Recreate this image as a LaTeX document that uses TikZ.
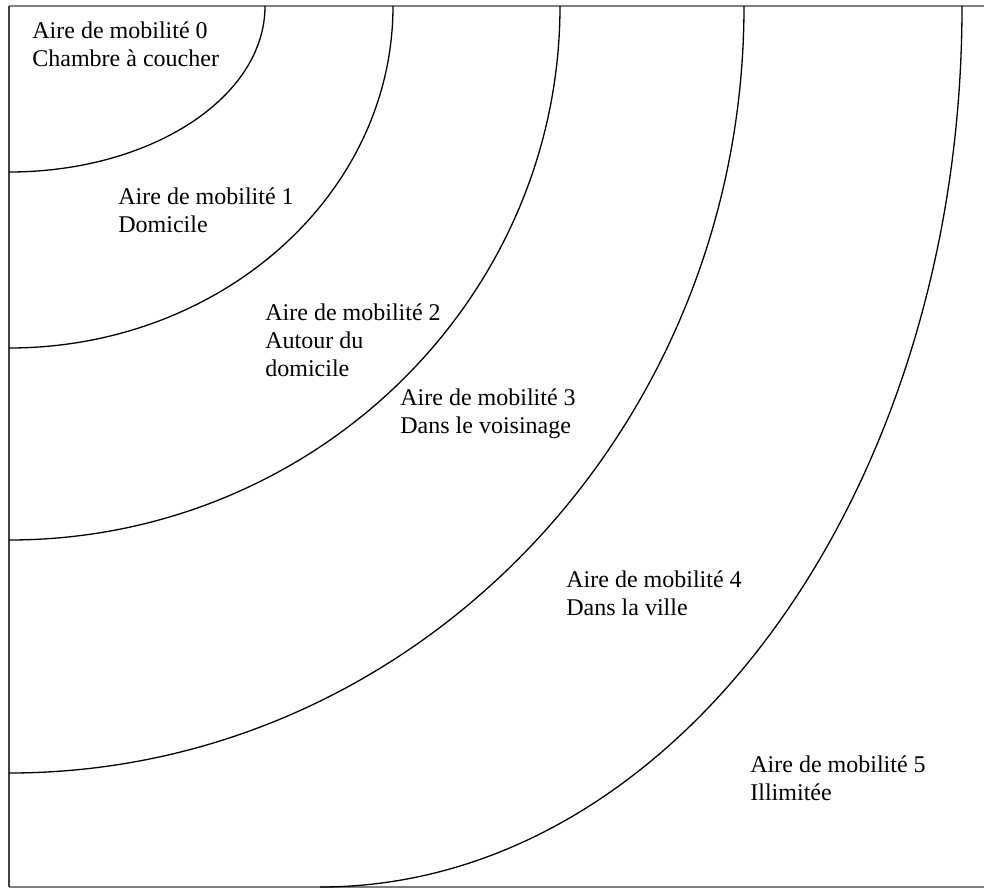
\documentclass[tikz,border=0pt]{standalone}
\usepackage{fontspec}
\setmainfont{Liberation Serif}
\usepackage{xcolor}
\usepackage{tikz}

\begin{document}
\begin{tikzpicture}[x=0.5pt, y=-0.5pt,
        lbl/.style={anchor=north west, inner sep=0pt, align=left, font=\fontsize{12}{14}\selectfont},
        zone/.style={line width=0.65pt, black}]
        \useasboundingbox (0, 0) rectangle (984, 889);

        % frame
        \draw[line width=1.4pt, gray] (9, 6) -- (984, 6);
        \draw[line width=1.4pt, gray] (9, 887) -- (984, 887);
        \draw[line width=1pt, black!75] (9, 6) -- (9, 887);

        % zones
        \draw[zone] (265, 6) arc[start angle=0, end angle=90, x radius=256, y radius=166];
        \draw[zone] (393, 6) arc[start angle=0, end angle=90, x radius=384, y radius=342];
        \draw[zone] (560, 6) arc[start angle=0, end angle=90, x radius=551, y radius=534];
        \draw[zone] (744, 6) arc[start angle=0, end angle=90, x radius=735, y radius=767];
        \draw[zone] (962, 6) arc[start angle=0, end angle=90, x radius=642, y radius=881];

        \node[lbl] (area0) at (32, 21) {Aire de mobilité 0\\Chambre à coucher};
        \node[lbl] (area1) at (118, 187) {Aire de mobilité 1\\Domicile};
        \node[lbl] (area2) at (265, 303) {Aire de mobilité 2\\Autour du\\domicile};
        \node[lbl] (area3) at (400, 388) {Aire de mobilité 3\\Dans le voisinage};
        \node[lbl] (area4) at (566, 570) {Aire de mobilité 4\\Dans la ville};
        \node[lbl] (area5) at (750, 755) {Aire de mobilité 5\\Illimitée};
    \end{tikzpicture}
\end{document}
